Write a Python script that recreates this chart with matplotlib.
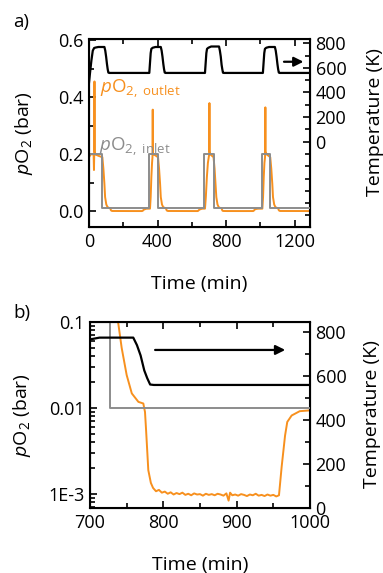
import numpy as np
import matplotlib
matplotlib.use('Agg')
import matplotlib.pyplot as plt
from matplotlib.ticker import FixedLocator, FixedFormatter, MultipleLocator, LogLocator, NullFormatter

plt.rcParams['font.family'] = ['Open Sans', 'DejaVu Sans']
plt.rcParams['mathtext.fontset'] = 'custom'
plt.rcParams['mathtext.rm'] = 'Open Sans'
plt.rcParams['mathtext.it'] = 'Open Sans:italic'

# --- data (time in min) ---
# temperature (K)
temp_t = [0, 6, 14, 22, 30, 40, 55, 90, 95, 100, 105, 109, 113, 118,
          352, 356, 360, 364, 372, 388, 419, 424, 429, 434, 438, 442, 447,
          677, 681, 685, 689, 697, 713, 759, 764, 769, 774, 778, 782, 787,
          1015, 1019, 1023, 1027, 1035, 1051, 1085, 1090, 1095, 1100, 1104, 1108, 1113, 1290]
temp_v = [480, 560, 660, 740, 762, 766, 770, 770, 740, 690, 630, 590, 562, 559,
          559, 640, 720, 755, 764, 770, 770, 740, 690, 630, 590, 562, 559,
          559, 640, 720, 755, 764, 774, 774, 740, 693, 625, 590, 561, 559,
          559, 640, 720, 755, 764, 770, 770, 740, 690, 630, 590, 562, 559, 559]

# inlet pO2 (bar), step profile
inlet_t = [3, 78, 78, 350, 350, 403, 403, 669, 669, 727, 727, 1007, 1007, 1058, 1058, 1290]
inlet_v = [0.2, 0.2, 0.01, 0.01, 0.2, 0.2, 0.01, 0.01, 0.2, 0.2, 0.01, 0.01, 0.2, 0.2, 0.01, 0.01]

# outlet pO2 (bar)
outlet_t = [0, 10, 27, 29, 30.5, 32, 33.5, 36, 55, 78, 84, 90, 94, 101, 108, 117, 124, 127, 131, 137,
            180, 240, 309, 314, 318, 324, 335, 356, 360, 364, 368, 370.5, 372, 373.5, 378, 390,
            403, 409, 415, 419, 426, 433, 442, 449, 452, 456, 462,
            520, 580, 634, 638, 642, 648, 660, 677, 682, 688, 694, 699, 701.5, 703, 704.5, 708, 718,
            727, 733, 738.6, 743.2, 750, 757, 766, 772.7, 775, 776.5, 779.5, 783, 786,
            790, 794, 798, 802, 806, 810, 814, 818, 822, 826, 830, 834, 838, 842, 846, 850,
            854, 858, 862, 866, 870, 874, 878, 882, 886, 889, 891, 894, 898, 902, 906, 910,
            914, 918, 922, 926, 930, 934, 938, 942, 946, 950, 954, 957.7,
            961.4, 966, 969, 975, 986, 1000, 1012, 1016, 1020, 1024, 1027.5, 1029.5, 1031, 1036, 1048,
            1058, 1064, 1070, 1074, 1081, 1088, 1097, 1104, 1107, 1111, 1117, 1200, 1290]
outlet_v = [0.19, 0.2, 0.2, 0.145, 0.2, 0.456, 0.21, 0.2, 0.195, 0.19, 0.15, 0.096, 0.05, 0.024, 0.015, 0.012, 0.011, 0.005, 0.002, 0.0012,
            0.001, 0.001, 0.00095, 0.0021, 0.0048, 0.0069, 0.0092, 0.0095, 0.05, 0.12, 0.17, 0.19, 0.357, 0.2, 0.2, 0.195,
            0.19, 0.15, 0.096, 0.05, 0.024, 0.015, 0.012, 0.011, 0.005, 0.002, 0.0012,
            0.001, 0.001, 0.00095, 0.0021, 0.0048, 0.0069, 0.0092, 0.0095, 0.05, 0.12, 0.17, 0.19, 0.2, 0.38, 0.21, 0.2, 0.195,
            0.19, 0.15, 0.096, 0.05, 0.0242, 0.0148, 0.0118, 0.0113, 0.009, 0.0055, 0.0019, 0.00135, 0.00118,
            0.00108, 0.00112, 0.00104, 0.00107, 0.00101, 0.00105, 0.00099, 0.00103, 0.00100, 0.00104, 0.00098, 0.00101, 0.00097, 0.00102, 0.00099, 0.00100,
            0.00096, 0.00101, 0.00098, 0.00100, 0.00097, 0.00101, 0.00099, 0.00096, 0.00102, 0.00084, 0.00104, 0.00097, 0.00099, 0.00096, 0.00100, 0.00098,
            0.00095, 0.00099, 0.00097, 0.00101, 0.00096, 0.00098, 0.00095, 0.00099, 0.00096, 0.00098, 0.00094, 0.00097,
            0.0021, 0.0048, 0.0069, 0.0082, 0.0092, 0.0094, 0.0095, 0.05, 0.12, 0.17, 0.19, 0.365, 0.21, 0.2, 0.195,
            0.19, 0.15, 0.096, 0.05, 0.024, 0.015, 0.012, 0.011, 0.005, 0.002, 0.0012, 0.001, 0.001]

orange = '#F7901E'
grey = '#8C8C8C'
tick_fs = 13
label_fs = 14

fig = plt.figure(figsize=(3.83, 5.73), dpi=100)

def style(ax, ax2):
    for sp in ax.spines.values():
        sp.set_linewidth(1.5)
    ax.tick_params(which='both', direction='in', top=True, right=False, width=1.2, labelsize=tick_fs, pad=4)
    ax.tick_params(which='major', length=5)
    ax.tick_params(which='minor', length=3.5)
    ax2.tick_params(which='both', direction='in', width=1.2, labelsize=tick_fs, pad=4)
    ax2.tick_params(which='major', length=5)
    ax2.tick_params(which='minor', length=3.5)

# ---------------- a) ----------------
ax1 = fig.add_axes([89/383, 1-227/573, 221/383, 188/573])
ax1.plot(outlet_t, outlet_v, color=orange, lw=1.4, zorder=2)
ax1.plot(inlet_t, inlet_v, color=grey, lw=1.4, zorder=3)
ax1.set_xlim(0, 1290)
ax1.set_ylim(-0.055, 0.605)
ax1.xaxis.set_major_locator(MultipleLocator(400))
ax1.xaxis.set_minor_locator(MultipleLocator(200))
ax1.yaxis.set_major_locator(MultipleLocator(0.2))
ax1.yaxis.set_minor_locator(MultipleLocator(0.1))
ax1.yaxis.set_major_formatter(matplotlib.ticker.FormatStrFormatter('%.1f'))
ax1.set_xlabel('Time (min)', fontsize=label_fs)
ax1.xaxis.set_label_coords(0.5, -0.255)
ax1.set_ylabel(r'$p$O$_2$ (bar)', fontsize=label_fs)
ax1.yaxis.set_label_coords(-0.244, 0.5)
ax1.text(62, 0.43, r'$p$O$_{2,\ \mathrm{outlet}}$', color=orange, fontsize=13.5, va='center')
ax1.text(60, 0.228, r'$p$O$_{2,\ \mathrm{inlet}}$', color=grey, fontsize=13.5, va='center')

ax2 = ax1.twinx()
ax2.plot(temp_t, temp_v, color='k', lw=1.6)
ax2.set_ylim(-694, 835)
ax2.yaxis.set_major_locator(FixedLocator([0, 200, 400, 600, 800]))
ax2.yaxis.set_minor_locator(FixedLocator([-600, -500, -400, -300, -200, -100, 100, 300, 500, 700]))
ax2.set_ylabel('Temperature (K)', fontsize=label_fs)
ax2.yaxis.set_label_coords(1.252, 0.56)
ax2.annotate('', xy=(1268, 650), xytext=(1122, 650),
             arrowprops=dict(arrowstyle='-|>', color='k', lw=1.6, mutation_scale=14))
style(ax1, ax2)

# ---------------- b) ----------------
bx1 = fig.add_axes([90/383, 1-508/573, 220/383, 186/573])
bx1.plot(outlet_t, outlet_v, color=orange, lw=1.4, zorder=2)
bx1.plot(inlet_t, inlet_v, color=grey, lw=1.4, zorder=3)
bx1.set_yscale('log')
bx1.set_xlim(700, 1000)
bx1.set_ylim(6.9e-4, 0.1)
bx1.xaxis.set_major_locator(MultipleLocator(100))
bx1.xaxis.set_minor_locator(MultipleLocator(50))
bx1.yaxis.set_major_locator(FixedLocator([0.001, 0.01, 0.1]))
bx1.yaxis.set_major_formatter(FixedFormatter(['1E-3', '0.01', '0.1']))
bx1.yaxis.set_minor_locator(LogLocator(base=10, subs=np.arange(2, 10)))
bx1.yaxis.set_minor_formatter(NullFormatter())
bx1.set_xlabel('Time (min)', fontsize=label_fs)
bx1.xaxis.set_label_coords(0.5, -0.258)
bx1.set_ylabel(r'$p$O$_2$ (bar)', fontsize=label_fs)
bx1.yaxis.set_label_coords(-0.26, 0.5)

bx2 = bx1.twinx()
bx2.plot(temp_t, temp_v, color='k', lw=1.6)
bx2.set_ylim(0, 845)
bx2.yaxis.set_major_locator(MultipleLocator(200))
bx2.yaxis.set_minor_locator(MultipleLocator(100))
bx2.set_ylabel('Temperature (K)', fontsize=label_fs)
bx2.yaxis.set_label_coords(1.241, 0.505)
bx2.annotate('', xy=(970, 718), xytext=(785, 718),
             arrowprops=dict(arrowstyle='-|>', color='k', lw=1.6, mutation_scale=14))
style(bx1, bx2)

fig.text(13/383, 1-22/573, 'a)', fontsize=13.5, va='center', ha='left')
fig.text(13/383, 1-313/573, 'b)', fontsize=13.5, va='center', ha='left')

fig.savefig('out.png', dpi=100)
